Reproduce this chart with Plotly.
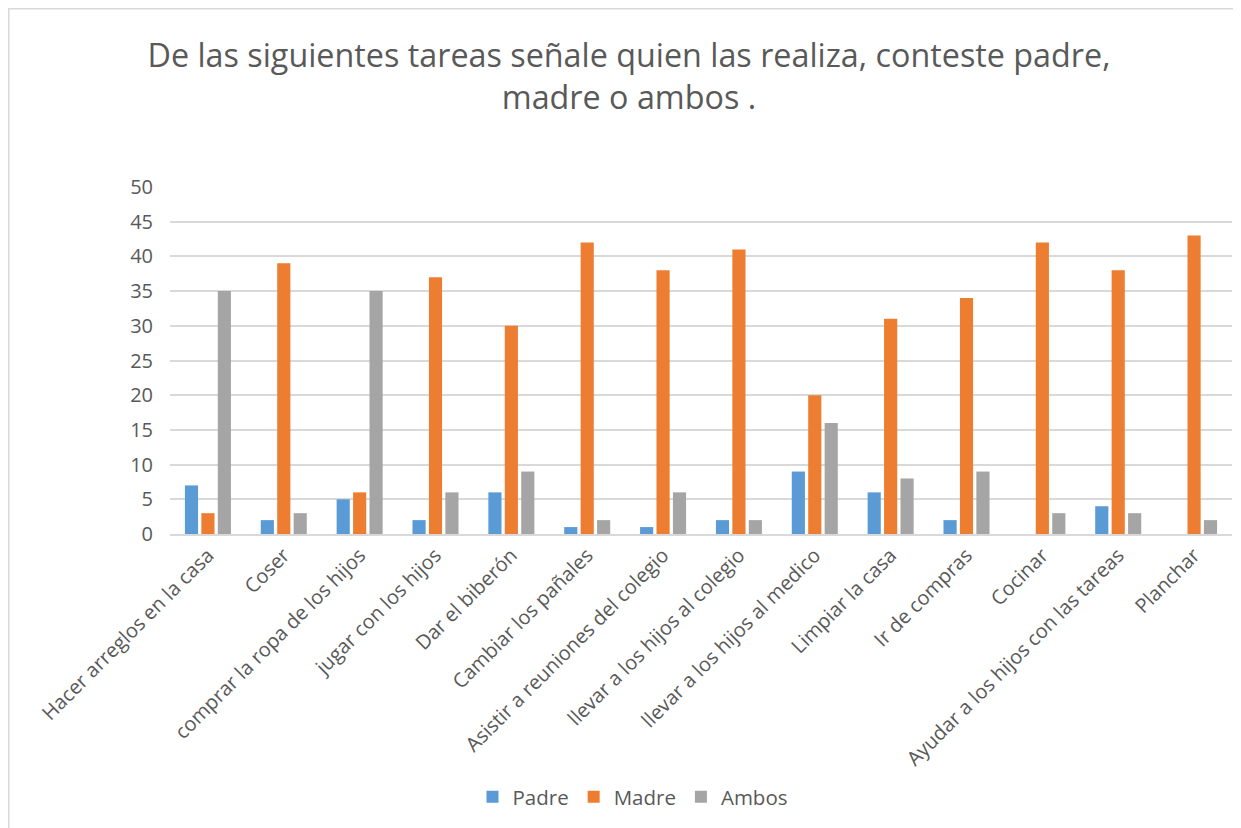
import plotly.graph_objects as go

categories = ["Hacer arreglos en la casa", "Coser", "comprar la ropa de los hijos",
              "jugar con los hijos", "Dar el biberón", "Cambiar los pañales",
              "Asistir a reuniones del colegio", "llevar a los hijos al colegio",
              "llevar a los hijos al medico", "Limpiar la casa", "Ir de compras",
              "Cocinar", "Ayudar a los hijos con las tareas", "Planchar"]
padre = [7, 2, 5, 2, 6, 1, 1, 2, 9, 6, 2, 0, 4, 0]
madre = [3, 39, 6, 37, 30, 42, 38, 41, 20, 31, 34, 42, 38, 43]
ambos = [35, 3, 35, 6, 9, 2, 6, 2, 16, 8, 9, 3, 3, 2]
yticks = list(range(0, 51, 5))

FONT = "Open Sans"
TXT = "#595959"

fig = go.Figure()
for name, vals, col in [("Padre", padre, "#5B9BD5"), ("Madre", madre, "#ED7D31"), ("Ambos", ambos, "#A5A5A5")]:
    fig.add_trace(go.Bar(name=name, x=categories, y=vals, marker_color=col,
                         marker_line_width=0))

# page is offset by 8px (body margin); coordinates below are screen - 8
OFF = 8
W, H = 1241 - OFF, 828 - OFF
L, R, T, B = 170 - OFF, 1232 - OFF, 187 - OFF, 534 - OFF
pw, ph = R - L, B - T

fig.update_layout(
    width=W, height=H,
    margin=dict(l=L, r=W - R, t=T, b=H - B, autoexpand=False),
    paper_bgcolor="white", plot_bgcolor="white",
    barmode="group", bargap=0.35, bargroupgap=0.2,
    font=dict(family=FONT, color=TXT, size=20),
    title=dict(text="De las siguientes tareas señale quien las realiza, conteste padre,<br>madre o ambos .",
               x=(629 - OFF) / W, xanchor="center", xref="container",
               y=1 - (67 - OFF) / H, yanchor="middle", yref="container",
               font=dict(family=FONT, size=32.3, color=TXT)),
    yaxis=dict(range=[0, 50], tickvals=yticks, showgrid=True, gridcolor="#D9D9D9",
               gridwidth=1.5, zeroline=False, showline=False, ticks="",
               tickfont=dict(size=20, color=TXT), ticklabelstandoff=16),
    xaxis=dict(tickangle=-45, showline=True, linecolor="#D9D9D9", linewidth=1.5,
               ticks="", tickfont=dict(size=20, color=TXT), automargin=False),
    legend=dict(orientation="h", x=(633 - 170) / pw, xanchor="center",
                y=(534 - 797) / ph, yanchor="middle", font=dict(size=20.5, color=TXT),
                itemwidth=30),
    showlegend=True,
)
fig.add_shape(type="rect", xref="paper", yref="paper",
              x0=(0.75 - L) / pw, x1=(W + 10 - L) / pw, y0=(B - (H + 20)) / ph, y1=(B - 0.75) / ph,
              line=dict(color="#D9D9D9", width=1.5), fillcolor="rgba(0,0,0,0)", layer="below")
fig.write_html("out.html")
